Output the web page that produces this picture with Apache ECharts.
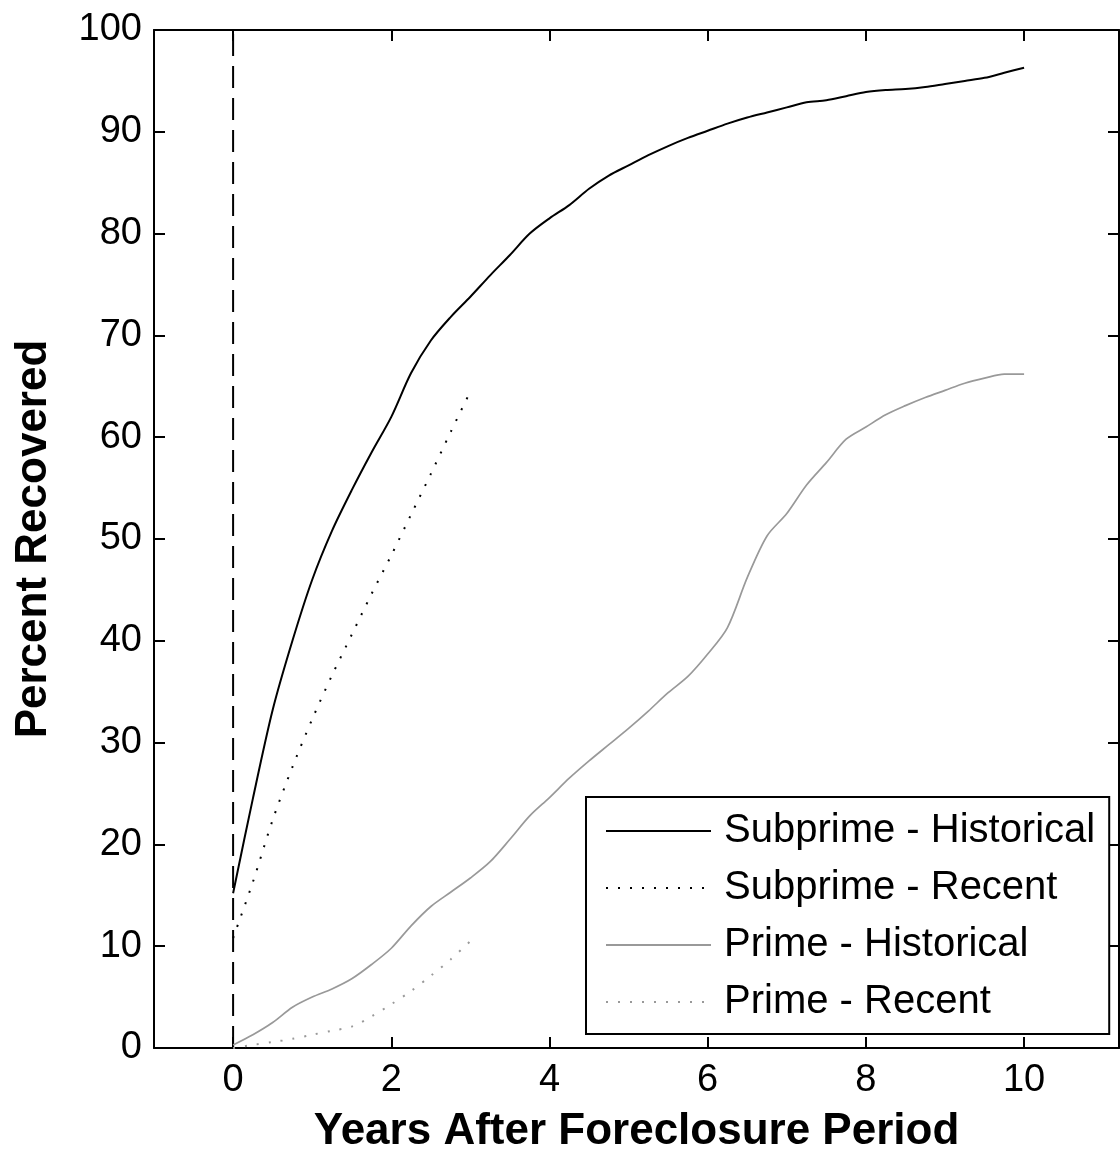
<!DOCTYPE html>
<html>
<head>
<meta charset="utf-8">
<script src="https://cdn.jsdelivr.net/npm/echarts@6/dist/echarts.min.js"></script>
<style>
html,body{margin:0;padding:0;background:#fff;}
#chart{width:1120px;height:1156px;}
</style>
</head>
<body>
<div id="chart"></div>
<script>
// ---- data ----
const yearsHistorical = [0,0.25,0.5,0.75,1,1.25,1.5,1.75,2,2.25,2.5,2.75,3,3.25,3.5,3.75,4,4.25,4.5,4.75,5,5.25,5.5,5.75,6,6.25,6.5,6.75,7,7.25,7.5,7.75,8,8.25,8.5,8.75,9,9.25,9.5,9.75,10];
const subprimeHistorical = [15.2,24.5,33.2,40,46,50.8,54.8,58.5,62,66.3,69.5,71.8,73.8,75.9,77.9,80.0,81.5,82.8,84.4,85.7,86.7,87.7,88.6,89.4,90.1,90.8,91.4,91.9,92.4,92.9,93.1,93.5,93.9,94.1,94.2,94.4,94.7,95.0,95.3,95.8,96.3];
const primeHistorical = [0.3,1.3,2.5,4.0,5.0,5.8,6.8,8.2,9.8,12.0,13.9,15.3,16.7,18.3,20.5,22.8,24.6,26.5,28.2,29.8,31.4,33.1,34.9,36.5,38.7,41.3,46.2,50.3,52.5,55.3,57.5,59.8,61.0,62.2,63.1,63.9,64.6,65.3,65.8,66.2,66.2];
const yearsRecent = [0,0.25,0.5,0.75,1,1.25,1.5,1.75,2,2.25,2.5,2.75,3];
const subprimeRecent = [10.8,16.3,22.4,27.6,32.3,36.6,40.6,44.6,48.4,52.4,56.4,60.5,64.5];
const primeRecent = [0,0.3,0.6,0.9,1.3,1.7,2.1,3.1,4.3,5.6,7.1,8.7,10.5];
const foreclosureLineX = [0,0];
const foreclosureLineY = [0,100];
const xTickValues = [0,2,4,6,8,10];
const seriesNames = ['Subprime - Historical','Subprime - Recent','Prime - Historical','Prime - Recent'];
const xTitle = 'Years After Foreclosure Period';
const yTitle = 'Percent Recovered';

const pairs = (xs, ys) => xs.map((x, i) => [x, ys[i]]);
const FONT = '"Liberation Sans", Arial, Helvetica, sans-serif';

const xMin = -1, xMax = 11.2;
const baseX = {
  type: 'value', min: xMin, max: xMax,
  splitLine: {show: false},
  axisLine: {show: true, onZero: false, lineStyle: {color: '#000', width: 2}},
  axisTick: {show: true, inside: true, length: 11, customValues: xTickValues, lineStyle: {color: '#000', width: 2}}
};
const baseY = {
  type: 'value', min: 0, max: 100, interval: 10,
  splitLine: {show: false},
  axisLine: {show: true, onZero: false, lineStyle: {color: '#000', width: 2}},
  axisTick: {show: true, inside: true, length: 11, lineStyle: {color: '#000', width: 2}}
};

const chart = echarts.init(document.getElementById('chart'), null, {renderer: 'canvas'});
chart.setOption({
  backgroundColor: '#fff',
  animation: false,
  grid: {left: 154, right: 1, top: 30, bottom: 108, containLabel: false, outerBoundsMode: 'none'},
  xAxis: [
    Object.assign({}, baseX, {
      position: 'bottom',
      axisLabel: {show: true, customValues: xTickValues, margin: 14, color: '#000', fontSize: 38, fontFamily: FONT},
      name: xTitle, nameLocation: 'middle', nameGap: 62, nameMoveOverlap: false,
      nameTextStyle: {color: '#000', fontSize: 44, fontWeight: 'bold', fontFamily: FONT}
    }),
    Object.assign({}, baseX, {position: 'top', axisLabel: {show: false}})
  ],
  yAxis: [
    Object.assign({}, baseY, {
      position: 'left',
      axisLabel: {show: true, margin: 12, color: '#000', fontSize: 38, fontFamily: FONT},
      name: yTitle, nameLocation: 'middle', nameGap: 98, nameMoveOverlap: false,
      nameTextStyle: {color: '#000', fontSize: 44, fontWeight: 'bold', fontFamily: FONT}
    }),
    Object.assign({}, baseY, {position: 'right', axisLabel: {show: false}})
  ],
  legend: {
    show: true,
    orient: 'vertical',
    left: 586, top: 797,
    padding: [14, 14, 12, 19],
    itemWidth: 105, itemHeight: 20, itemGap: 17,
    backgroundColor: '#fff',
    borderColor: '#000', borderWidth: 2,
    itemStyle: {opacity: 0},
    textStyle: {color: '#000', fontSize: 40, lineHeight: 40, fontFamily: FONT, padding: [0, 0, 0, 8]},
    data: seriesNames
  },
  series: [
    {
      name: 'foreclosure', type: 'line', xAxisIndex: 0, yAxisIndex: 0,
      data: pairs(foreclosureLineX, foreclosureLineY),
      symbol: 'none', silent: true,
      lineStyle: {color: '#000', width: 2, type: [22, 10]}
    },
    {
      name: seriesNames[0], type: 'line', data: pairs(yearsHistorical, subprimeHistorical),
      symbol: 'none', smooth: 0.3, color: '#000', lineStyle: {color: '#000', width: 2, type: 'solid'}
    },
    {
      name: seriesNames[1], type: 'line', data: pairs(yearsRecent, subprimeRecent),
      symbol: 'none', smooth: 0.3, color: '#000', lineStyle: {color: '#000', width: 2, type: [2, 10]}
    },
    {
      name: seriesNames[2], type: 'line', data: pairs(yearsHistorical, primeHistorical),
      symbol: 'none', smooth: 0.3, color: '#999', lineStyle: {color: '#999', width: 1.7, type: 'solid'}
    },
    {
      name: seriesNames[3], type: 'line', data: pairs(yearsRecent, primeRecent),
      symbol: 'none', smooth: 0.3, color: '#999', lineStyle: {color: '#999', width: 2, type: [2, 10]}
    }
  ]
});
</script>
</body>
</html>
